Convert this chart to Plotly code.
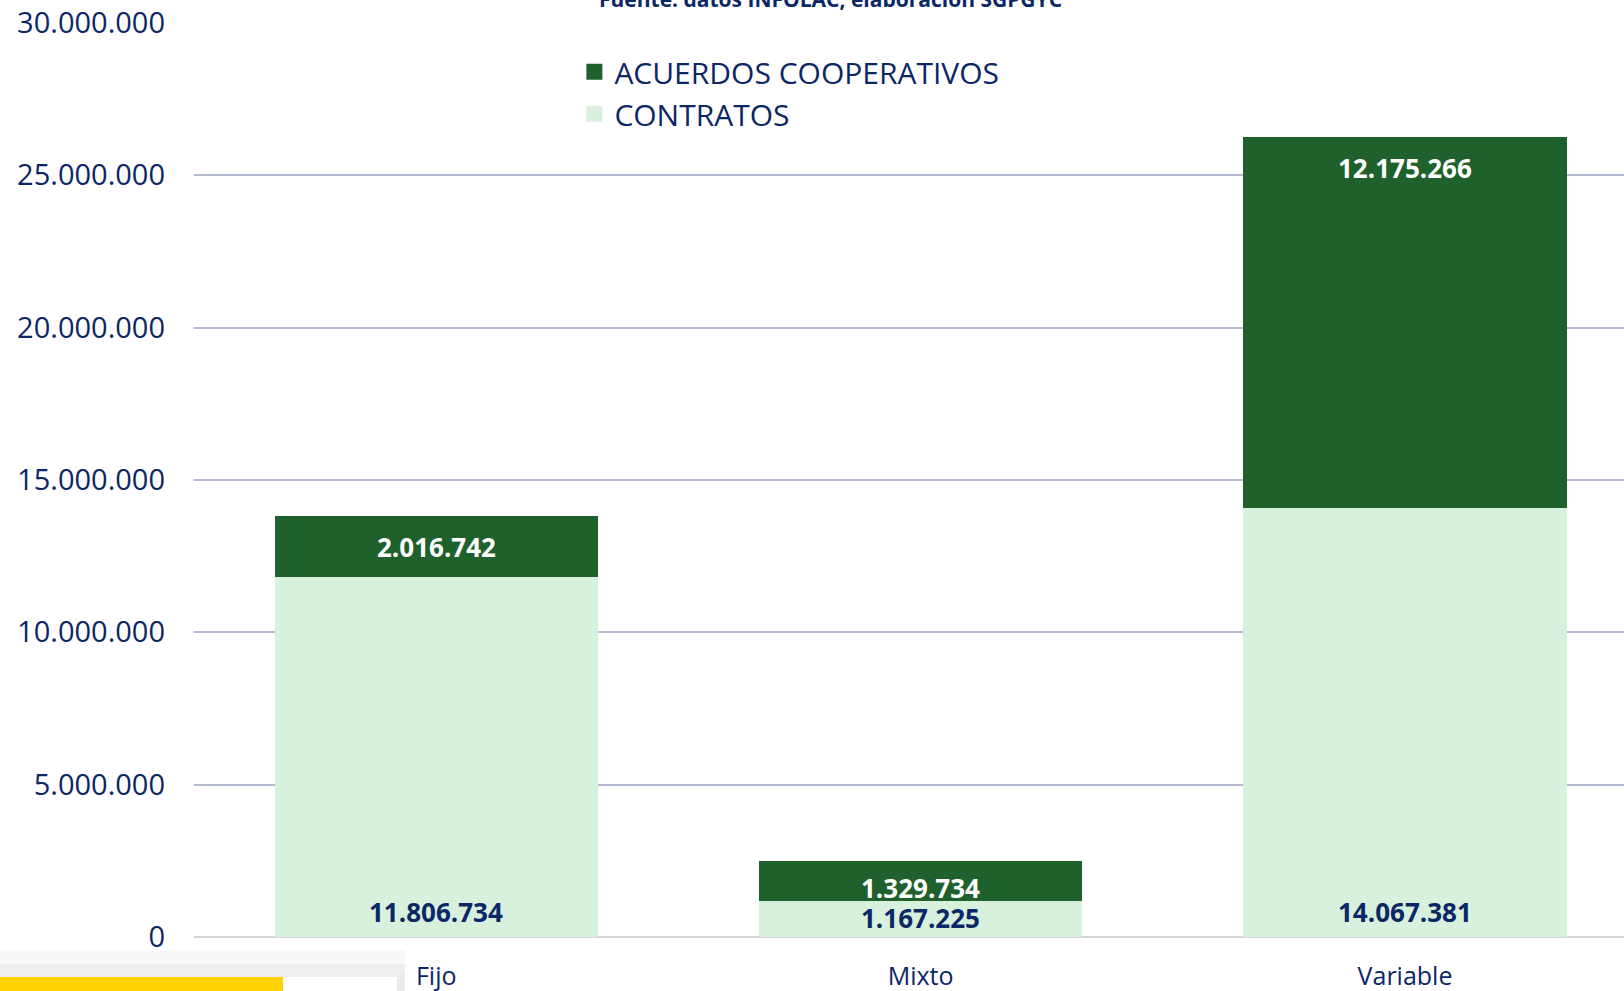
#%% IMPORTS

import plotly.graph_objects as go

#%% DATA

categories = ['Fijo', 'Mixto', 'Variable']
contratos = [11806734, 1167225, 14067381]
acuerdos = [2016742, 1329734, 12175266]
y_ticks = [0, 5000000, 10000000, 15000000, 20000000, 25000000, 30000000]

#%% STYLE

DARK_GREEN = '#1F612D'
LIGHT_GREEN = '#D7F1DD'
NAVY = '#0B2766'
FONT = 'Open Sans'

# label nudges (px), the short Mixto bar needs its labels pulled apart
base_shift = {'Fijo': 5, 'Mixto': -1, 'Variable': 5}
top_shift = {'Fijo': -11, 'Mixto': -7, 'Variable': -11}


def fmt(v):
    return f'{v:,}'.replace(',', '.')


#%% FIGURE

fig = go.Figure()

fig.add_trace(go.Bar(
    x=categories,
    y=contratos,
    name='CONTRATOS',
    marker_color=LIGHT_GREEN,
    marker_line_width=0,
    width=0.667,
    showlegend=False,
))

fig.add_trace(go.Bar(
    x=categories,
    y=acuerdos,
    name='ACUERDOS COOPERATIVOS',
    marker_color=DARK_GREEN,
    marker_line_width=0,
    width=0.667,
    showlegend=False,
))

# legend entries with bigger square keys
for name, col, rank in [('ACUERDOS COOPERATIVOS', DARK_GREEN, 1),
                        ('CONTRATOS', LIGHT_GREEN, 2)]:
    fig.add_trace(go.Scatter(
        x=[None], y=[None], mode='markers', name=name,
        marker=dict(symbol='square', size=18, color=col),
        legendrank=rank,
    ))

# data labels: contratos at the base, acuerdos at the top of their segment
for cat, c, a in zip(categories, contratos, acuerdos):
    fig.add_annotation(
        x=cat, y=0, text=f'<b>{fmt(c)}</b>',
        showarrow=False, yanchor='bottom', yshift=base_shift[cat],
        font=dict(family=FONT, size=26, color=NAVY),
    )
    fig.add_annotation(
        x=cat, y=c + a, text=f'<b>{fmt(a)}</b>',
        showarrow=False, yanchor='top', yshift=top_shift[cat],
        font=dict(family=FONT, size=26, color='white'),
    )

# source line, cut by the top edge as in the original capture
fig.add_annotation(
    xref='paper', yref='paper', x=0.445, y=1.026,
    text='<b>Fuente: datos INFOLAC, elaboración SGPGYC</b>',
    showarrow=False, yanchor='middle',
    font=dict(family=FONT, size=21, color=NAVY),
)

# screen capture leftovers at the bottom left
W, H = 1430, 914
def px(x):
    return (x - 194) / W
def py(y):
    return (937 - y) / H

for x0, x1, y0, y1, col in [
    (0, 405, 950, 964, '#F8F8F8'),
    (0, 405, 964, 977, '#EEEEEE'),
    (0, 283, 977, 991, '#FFD200'),
    (283, 397, 977, 991, '#FFFFFF'),
    (397, 405, 972, 991, '#EBEBEB'),
]:
    fig.add_shape(
        type='rect', xref='paper', yref='paper',
        x0=px(x0), x1=px(x1), y0=py(y1), y1=py(y0),
        fillcolor=col, line_width=0, layer='below',
    )

fig.update_layout(
    template='plotly_white',
    width=1624,
    height=991,
    barmode='stack',
    separators=',.',
    margin=dict(l=194, r=0, t=23, b=54),
    paper_bgcolor='white',
    plot_bgcolor='white',
    font=dict(family=FONT, color=NAVY),
    showlegend=True,
    legend=dict(
        x=0.266, y=0.975, xanchor='left', yanchor='top',
        traceorder='normal',
        itemsizing='trace',
        font=dict(family=FONT, size=30, color=NAVY),
        bgcolor='rgba(0,0,0,0)',
    ),
    xaxis=dict(
        range=[-0.5, 2.452],
        showgrid=False,
        showline=False,
        zeroline=False,
        ticks='',
        ticklabelstandoff=22,
        tickfont=dict(family=FONT, size=25, color=NAVY),
    ),
    yaxis=dict(
        range=[0, 30000000],
        tickvals=y_ticks,
        tickformat=',d',
        gridcolor='#B3BACF',
        gridwidth=1.5,
        zeroline=True,
        zerolinecolor='#D6D6D6',
        zerolinewidth=2,
        showline=False,
        ticks='',
        ticklabelstandoff=28,
        tickfont=dict(family=FONT, size=29, color=NAVY),
    ),
)

fig.write_html(
    'out.html',
    config={'displayModeBar': False},
    post_script="document.body.style.margin='0';document.body.style.overflow='hidden';",
)
